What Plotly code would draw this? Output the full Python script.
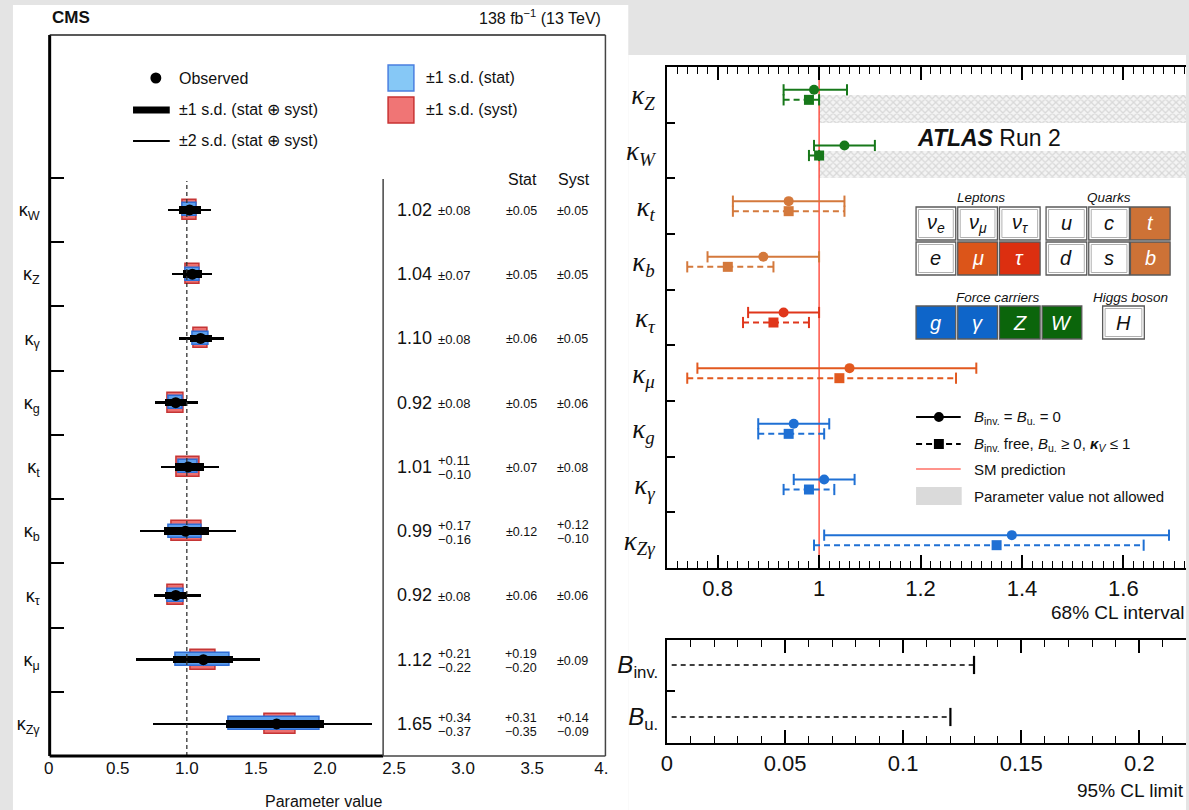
import plotly.graph_objects as go

W, H = 1189, 810
SANS = "Liberation Sans, Arial, Helvetica, sans-serif"
SERIF = "Liberation Serif, Times New Roman, serif"


def X(px):
    return px / W


def Y(py):
    return 1 - py / H


# ---------------- CMS data ----------------
cms_labels = ["κ<sub>W</sub>", "κ<sub>Z</sub>", "κ<sub>γ</sub>", "κ<sub>g</sub>", "κ<sub>t</sub>",
              "κ<sub>b</sub>", "κ<sub>τ</sub>", "κ<sub>μ</sub>", "κ<sub>Zγ</sub>"]
cms_best = [1.02, 1.04, 1.10, 0.92, 1.01, 0.99, 0.92, 1.12, 1.65]
cms_tot_up = [0.08, 0.07, 0.08, 0.08, 0.11, 0.17, 0.08, 0.21, 0.34]
cms_tot_dn = [0.08, 0.07, 0.08, 0.08, 0.10, 0.16, 0.08, 0.22, 0.37]
cms_stat_up = [0.05, 0.05, 0.06, 0.05, 0.07, 0.12, 0.06, 0.19, 0.31]
cms_stat_dn = [0.05, 0.05, 0.06, 0.05, 0.07, 0.12, 0.06, 0.20, 0.35]
cms_syst_up = [0.05, 0.05, 0.05, 0.06, 0.08, 0.12, 0.06, 0.09, 0.14]
cms_syst_dn = [0.05, 0.05, 0.05, 0.06, 0.08, 0.10, 0.06, 0.09, 0.09]
cms_2sd_up = [0.15, 0.14, 0.17, 0.16, 0.22, 0.36, 0.18, 0.41, 0.69]
cms_2sd_dn = [0.16, 0.15, 0.16, 0.15, 0.20, 0.33, 0.16, 0.49, 0.90]
cms_xticks = [0, 0.5, 1.0, 1.5, 2.0, 2.5, 3.0, 3.5, 4.0]
cms_xticktext = ["0", "0.5", "1.0", "1.5", "2.0", "2.5", "3.0", "3.5", "4."]
cms_y = list(range(len(cms_labels) - 1, -1, -1))

# ---------------- ATLAS data ----------------
atlas_labels = ["<i>κ</i><sub><i>Z</i></sub>", "<i>κ</i><sub><i>W</i></sub>", "<i>κ</i><sub><i>t</i></sub>",
                "<i>κ</i><sub><i>b</i></sub>", "<i>κ</i><sub><i>τ</i></sub>", "<i>κ</i><sub><i>μ</i></sub>",
                "<i>κ</i><sub><i>g</i></sub>", "<i>κ</i><sub><i>γ</i></sub>", "<i>κ</i><sub><i>Zγ</i></sub>"]
atlas_circ = [0.99, 1.05, 0.94, 0.89, 0.93, 1.06, 0.95, 1.01, 1.38]
atlas_circ_lo = [0.93, 0.99, 0.83, 0.78, 0.86, 0.76, 0.88, 0.95, 1.01]
atlas_circ_hi = [1.055, 1.11, 1.05, 1.00, 1.00, 1.31, 1.02, 1.07, 1.69]
atlas_sq = [0.98, 1.00, 0.94, 0.82, 0.91, 1.04, 0.94, 0.98, 1.35]
atlas_sq_lo = [0.93, 0.98, 0.83, 0.74, 0.85, 0.74, 0.88, 0.93, 0.99]
atlas_sq_hi = [1.00, 1.00, 1.05, 0.91, 0.98, 1.27, 1.01, 1.03, 1.64]
GREEN, ORANGE, RED, MUOR, BLUE = "#17781a", "#d4793c", "#e0361b", "#e2591f", "#1f70d4"
atlas_colors = [GREEN, GREEN, ORANGE, ORANGE, RED, MUOR, BLUE, BLUE, BLUE]
atlas_y = list(range(len(atlas_labels) - 1, -1, -1))
atlas_xticks = [0.8, 1.0, 1.2, 1.4, 1.6]
atlas_xticktext = ["0.8", "1", "1.2", "1.4", "1.6"]
atlas_notallowed_rows = [0, 1]   # kappa_Z, kappa_W  (kappa_V <= 1)
sm_value = 1.0

br_labels = ["<i>B</i><sub>inv.</sub>", "<i>B</i><sub>u.</sub>"]
br_limits = [0.13, 0.12]
br_y = [1, 0]
br_xticks = [0, 0.05, 0.1, 0.15, 0.2]
br_xticktext = ["0", "0.05", "0.1", "0.15", "0.2"]

fig = go.Figure()

# ---------------- CMS traces ----------------
fig.add_trace(go.Scatter(x=[1, 1], y=[-0.5, 8.45], mode="lines",
                         line=dict(color="#333", width=1.3, dash="4px,3px"),
                         xaxis="x", yaxis="y", hoverinfo="skip"))
fig.add_trace(go.Bar(orientation="h", y=cms_y,
                     x=[u + d for u, d in zip(cms_2sd_up, cms_2sd_dn)],
                     base=[b - d for b, d in zip(cms_best, cms_2sd_dn)],
                     width=0.04, marker=dict(color="black", line=dict(width=0)),
                     xaxis="x", yaxis="y"))
fig.add_trace(go.Bar(orientation="h", y=cms_y,
                     x=[u + d for u, d in zip(cms_syst_up, cms_syst_dn)],
                     base=[b - d for b, d in zip(cms_best, cms_syst_dn)],
                     width=0.31, marker=dict(color="#ec7070", line=dict(color="#c53535", width=1.5)),
                     xaxis="x", yaxis="y"))
fig.add_trace(go.Bar(orientation="h", y=cms_y,
                     x=[u + d for u, d in zip(cms_stat_up, cms_stat_dn)],
                     base=[b - d for b, d in zip(cms_best, cms_stat_dn)],
                     width=0.2, marker=dict(color="#5d9fec", line=dict(color="#2f6ed6", width=1.5)),
                     xaxis="x", yaxis="y"))
fig.add_trace(go.Bar(orientation="h", y=cms_y,
                     x=[u + d for u, d in zip(cms_tot_up, cms_tot_dn)],
                     base=[b - d for b, d in zip(cms_best, cms_tot_dn)],
                     width=0.12, marker=dict(color="black", line=dict(width=0)),
                     xaxis="x", yaxis="y"))
fig.add_trace(go.Scatter(x=cms_best, y=cms_y, mode="markers",
                         marker=dict(color="black", size=11, symbol="circle"),
                         xaxis="x", yaxis="y"))

# ---------------- ATLAS traces ----------------
OFF = 0.09
fig.add_trace(go.Bar(orientation="h",
                     y=[atlas_y[r] - 0.25 for r in atlas_notallowed_rows],
                     x=[2.0 - sm_value for _ in atlas_notallowed_rows],
                     base=[sm_value for _ in atlas_notallowed_rows],
                     width=0.5,
                     marker=dict(color="#f4f4f4", line=dict(width=0),
                                 pattern=dict(shape="x", fgcolor="#bcbcbc", bgcolor="#f4f4f4",
                                              size=5, solidity=0.45)),
                     xaxis="x2", yaxis="y2"))
fig.add_trace(go.Scatter(x=[sm_value, sm_value], y=[-0.5, 8.5], mode="lines",
                         line=dict(color="#ff2a1a", width=1.2), xaxis="x2", yaxis="y2"))
for i in range(len(atlas_labels)):
    yc = atlas_y[i]
    col = atlas_colors[i]
    # nominal (solid) with circle
    fig.add_trace(go.Scatter(x=[atlas_circ_lo[i], atlas_circ_hi[i]], y=[yc + OFF] * 2, mode="lines",
                             line=dict(color=col, width=2), xaxis="x2", yaxis="y2"))
    fig.add_trace(go.Scatter(x=[atlas_circ_lo[i], atlas_circ_hi[i]], y=[yc + OFF] * 2, mode="markers",
                             marker=dict(symbol="line-ns", size=8, color=col, line=dict(color=col, width=2)),
                             xaxis="x2", yaxis="y2"))
    fig.add_trace(go.Scatter(x=[atlas_circ[i]], y=[yc + OFF], mode="markers",
                             marker=dict(symbol="circle", size=10, color=col),
                             xaxis="x2", yaxis="y2"))
    # Binv free (dashed) with square
    fig.add_trace(go.Scatter(x=[atlas_sq_lo[i], atlas_sq_hi[i]], y=[yc - OFF] * 2, mode="lines",
                             line=dict(color=col, width=2, dash="6px,4px"), xaxis="x2", yaxis="y2"))
    fig.add_trace(go.Scatter(x=[atlas_sq_lo[i], atlas_sq_hi[i]], y=[yc - OFF] * 2, mode="markers",
                             marker=dict(symbol="line-ns", size=8, color=col, line=dict(color=col, width=2)),
                             xaxis="x2", yaxis="y2"))
    fig.add_trace(go.Scatter(x=[atlas_sq[i]], y=[yc - OFF], mode="markers",
                             marker=dict(symbol="square", size=10, color=col),
                             xaxis="x2", yaxis="y2"))

# ---------------- ATLAS lower panel ----------------
for lim, yb in zip(br_limits, br_y):
    fig.add_trace(go.Scatter(x=[0.002, lim], y=[yb, yb], mode="lines",
                             line=dict(color="black", width=1.5, dash="5px,4px"),
                             xaxis="x3", yaxis="y3"))
fig.add_trace(go.Scatter(x=br_limits, y=br_y, mode="markers",
                         marker=dict(symbol="line-ns", size=13, color="black", line=dict(color="black", width=2.2)),
                         xaxis="x3", yaxis="y3"))

# ---------------- shapes ----------------
shapes = []


def rect(x0, x1, y0, y1, fill, line=None, lw=0, layer="above"):
    shapes.append(dict(type="rect", xref="paper", yref="paper", x0=X(x0), x1=X(x1), y0=Y(y1), y1=Y(y0),
                       fillcolor=fill, line=dict(color=line or fill, width=lw), layer=layer))


def line(x0, x1, y0, y1, color, width, dash=None, layer="above"):
    d = dict(color=color, width=width)
    if dash:
        d["dash"] = dash
    shapes.append(dict(type="line", xref="paper", yref="paper", x0=X(x0), x1=X(x1), y0=Y(y0), y1=Y(y1),
                       line=d, layer=layer))


# white image backgrounds
rect(7, 627, 5, 810, "white", layer="below")
rect(627, 1189, 55, 810, "white", layer="below")

# CMS frame
line(44, 44, 35, 756, "black", 3)
line(44, 604, 35, 35, "#222", 1.5)
line(604, 604, 35, 756, "#444", 1.5)
line(44, 380, 756, 756, "black", 3)
line(380, 604, 756, 756, "#444", 1.5)
line(380, 380, 179, 756, "#444", 1.5)

# CMS legend graphics
shapes.append(dict(type="circle", xref="paper", yref="paper", x0=X(145.5), x1=X(156.5), y0=Y(83.5), y1=Y(72.5),
                   fillcolor="black", line=dict(color="black", width=0)))
line(128, 165, 110, 110, "black", 7)
line(128, 165, 141, 141, "black", 2)
rect(385, 411, 65, 91, "#86c8f6", "#4a7fe0", 1.5)
rect(385, 411, 97, 123, "#f07575", "#c83232", 1.5)

# ATLAS particle table
boxes = [
    ("<i>ν</i><sub><i>e</i></sub>", 917, 957, 207, 240, "white"),
    ("<i>ν</i><sub><i>μ</i></sub>", 959, 999, 207, 240, "white"),
    ("<i>ν</i><sub><i>τ</i></sub>", 1001, 1042, 207, 240, "white"),
    ("<i>u</i>", 1048, 1089, 207, 240, "white"),
    ("<i>c</i>", 1091, 1132, 207, 240, "white"),
    ("<i>t</i>", 1133, 1173, 207, 240, "#cd7236"),
    ("<i>e</i>", 917, 957, 242, 275, "white"),
    ("<i>μ</i>", 959, 999, 242, 275, "#dc5519"),
    ("<i>τ</i>", 1001, 1042, 242, 275, "#dc2f10"),
    ("<i>d</i>", 1048, 1089, 242, 275, "white"),
    ("<i>s</i>", 1091, 1132, 242, 275, "white"),
    ("<i>b</i>", 1133, 1173, 242, 275, "#cd7236"),
    ("<i>g</i>", 917, 957, 306, 339, "#0e65c9"),
    ("<i>γ</i>", 959, 999, 306, 339, "#0e65c9"),
    ("<i>Z</i>", 1001, 1042, 306, 339, "#0b650b"),
    ("<i>W</i>", 1044, 1084, 306, 339, "#0b650b"),
    ("<i>H</i>", 1105, 1147, 306, 339, "white"),
]
for _, x0, x1, y0, y1, fill in boxes:
    rect(x0, x1, y0, y1, fill, "#5a5a5a", 1.3)
    if fill == "white":
        rect(x0 + 2.5, x1 - 2.5, y0 + 2.5, y1 - 2.5, "white", "#b0b0b0", 1)

# ATLAS legend graphics
line(917, 962, 417, 417, "black", 2)
shapes.append(dict(type="circle", xref="paper", yref="paper", x0=X(935), x1=X(945), y0=Y(422), y1=Y(412),
                   fillcolor="black", line=dict(color="black", width=0)))
line(917, 962, 444, 444, "black", 2, dash="6px,4px")
rect(935, 945, 439, 449, "black")
line(917, 962, 469, 469, "#ff2a1a", 1.2)
rect(917, 963, 487, 505, "#dadada")

# ---------------- annotations ----------------
ann = []


def txt(x, y, s, size, xanchor="left", color="#111", family=SANS, xref="paper", yref="paper", yshift=0):
    if xref == "paper":
        x = X(x)
    if yref == "paper":
        y = Y(y)
    ann.append(dict(x=x, y=y, xref=xref, yref=yref, text=s, showarrow=False, xanchor=xanchor,
                    yanchor="middle", font=dict(size=size, color=color, family=family), yshift=yshift))


# CMS header / legend
txt(44, 17, "<b>CMS</b>", 17)
txt(602, 17, "138 fb<sup>−1</sup> (13 TeV)", 16, xanchor="right")
txt(172, 78, "Observed", 16)
txt(172, 110, "±1 s.d. (stat ⊕ syst)", 16)
txt(172, 141, "±2 s.d. (stat ⊕ syst)", 16)
txt(421, 77, "±1 s.d. (stat)", 16)
txt(421, 110, "±1 s.d. (syst)", 16)
txt(520, 179, "Stat", 16, xanchor="center")
txt(572, 179, "Syst", 16, xanchor="center")
txt(320, 801, "Parameter value", 16, xanchor="center")

X_VAL, X_ERR, X_STAT, X_SYST = 2.79, 2.805, 3.42, 3.795


def err_ann(xd, yd, up, dn, size, anchor):
    if abs(up - dn) < 1e-9:
        txt(xd, yd, f"±{up:.2f}", size, xanchor=anchor, xref="x", yref="y", yshift=-1)
    else:
        txt(xd, yd, f"+{up:.2f}", size, xanchor=anchor, xref="x", yref="y", yshift=6)
        txt(xd, yd, f"−{dn:.2f}", size, xanchor=anchor, xref="x", yref="y", yshift=-8)


for i in range(len(cms_labels)):
    yd = cms_y[i]
    txt(X_VAL, yd, f"{cms_best[i]:.2f}", 18, xanchor="right", xref="x", yref="y")
    err_ann(X_ERR, yd, cms_tot_up[i], cms_tot_dn[i], 13, "left")
    err_ann(X_STAT, yd, cms_stat_up[i], cms_stat_dn[i], 12.5, "center")
    err_ann(X_SYST, yd, cms_syst_up[i], cms_syst_dn[i], 12.5, "center")

# ATLAS texts
txt(916, 138, "<b><i>ATLAS</i></b> Run 2", 23)
txt(982, 197, "<i>Leptons</i>", 13.5, xanchor="center")
txt(1111, 197, "<i>Quarks</i>", 13.5, xanchor="center")
txt(1000, 297, "<i>Force carriers</i>", 13.5, xanchor="center")
txt(1133, 297, "<i>Higgs boson</i>", 13.5, xanchor="center")
for s, x0, x1, y0, y1, fill in boxes:
    txt((x0 + x1) / 2, (y0 + y1) / 2, s, 20, xanchor="center",
        color="#111" if fill == "white" else "white")
txt(973, 417, "<i>B</i><sub>inv.</sub> = <i>B</i><sub>u.</sub> = 0", 15)
txt(973, 444, "<i>B</i><sub>inv.</sub> free, <i>B</i><sub>u.</sub> ≥ 0, <b><i>κ</i></b><sub><i>V</i></sub> ≤ 1", 15)
txt(973, 469, "SM prediction", 15)
txt(973, 496, "Parameter value not allowed", 15)
txt(1189, 612, "68% CL interval", 19, xanchor="right")
txt(1189, 790, "95% CL limit", 19, xanchor="right")

# ---------------- layout ----------------
blk = "black"
layout = dict(
    width=W, height=H, margin=dict(l=0, r=0, t=0, b=0),
    paper_bgcolor="#e4e4e4", plot_bgcolor="rgba(0,0,0,0)",
    showlegend=False, barmode="overlay", bargap=0,
    shapes=shapes, annotations=ann,
    font=dict(family=SANS, color="#111"),
    # CMS
    xaxis=dict(domain=[X(43), X(604)], range=[0, 4.03], anchor="y",
               tickmode="array", tickvals=cms_xticks, ticktext=cms_xticktext,
               ticks="", showline=False, showgrid=False, zeroline=False,
               tickfont=dict(size=17, family=SANS, color="#111")),
    xaxis4=dict(overlaying="x", anchor="y", range=[0, 4.03], tickmode="array",
                tickvals=[0.5, 1.0, 1.5, 2.0], ticks="inside", ticklen=12, tickwidth=1.5, tickcolor=blk,
                showticklabels=False, showline=False, showgrid=False, zeroline=False,
                minor=dict(tickmode="array",
                           tickvals=[v / 10 for v in range(1, 25) if v % 5 != 0],
                           ticks="inside", ticklen=6, tickwidth=1.3, tickcolor=blk, showgrid=False)),
    yaxis=dict(domain=[Y(756), Y(35)], range=[-0.5, 10.722], anchor="x",
               tickmode="array", tickvals=cms_y, ticktext=cms_labels, ticks="",
               showline=False, showgrid=False, zeroline=False, ticklabelstandoff=8,
               tickfont=dict(size=18, family=SANS, color="#111"),
               minor=dict(tickmode="array", tickvals=[v + 0.5 for v in range(9)], ticks="inside",
                          ticklen=15, tickwidth=1.5, tickcolor=blk, showgrid=False)),
    # ATLAS upper
    xaxis2=dict(domain=[X(666), 1.0], range=[0.7, 0.7 + (1189 - 666) / 511], anchor="y2",
                tickmode="array", tickvals=atlas_xticks, ticktext=atlas_xticktext,
                ticks="inside", ticklen=13, tickwidth=1.5, tickcolor=blk,
                showline=True, linecolor=blk, linewidth=1.8, mirror="allticks",
                showgrid=False, zeroline=False,
                tickfont=dict(size=22, family=SANS, color="#111"),
                minor=dict(tickmode="linear", tick0=0.7, dtick=0.02, ticks="inside", ticklen=7,
                           tickwidth=1.3, tickcolor=blk, showgrid=False)),
    yaxis2=dict(domain=[Y(568), Y(67)], range=[-0.5, 8.5], anchor="x2",
                tickmode="array", tickvals=atlas_y, ticktext=atlas_labels, ticks="",
                showline=True, linecolor=blk, linewidth=1.8, mirror=False,
                showgrid=False, zeroline=False, ticklabelstandoff=5,
                tickfont=dict(size=27, family=SERIF, color="#111"),
                minor=dict(tickmode="array", tickvals=[v + 0.5 for v in range(8)], ticks="inside",
                           ticklen=8, tickwidth=1.5, tickcolor=blk, showgrid=False)),
    yaxis5=dict(overlaying="y2", anchor="x2", side="right", range=[-0.5, 8.5],
                tickmode="array", tickvals=[v + 0.5 for v in range(8)], ticks="inside",
                ticklen=8, tickwidth=1.5, tickcolor=blk, showticklabels=False,
                showline=False, showgrid=False, zeroline=False),
    # ATLAS lower
    xaxis3=dict(domain=[X(666), 1.0], range=[0, (1189 - 666) / 2380], anchor="y3",
                tickmode="array", tickvals=br_xticks, ticktext=br_xticktext,
                ticks="inside", ticklen=13, tickwidth=1.5, tickcolor=blk,
                showline=True, linecolor=blk, linewidth=1.8, mirror="allticks",
                showgrid=False, zeroline=False,
                tickfont=dict(size=22, family=SANS, color="#111"),
                minor=dict(tickmode="linear", tick0=0, dtick=0.01, ticks="inside", ticklen=7,
                           tickwidth=1.3, tickcolor=blk, showgrid=False)),
    yaxis3=dict(domain=[Y(743), Y(640)], range=[-0.5, 1.48], anchor="x3",
                tickmode="array", tickvals=br_y, ticktext=br_labels, ticks="",
                showline=True, linecolor=blk, linewidth=1.8, mirror=False,
                showgrid=False, zeroline=False, ticklabelstandoff=2,
                tickfont=dict(size=24, family=SANS, color="#111"),
                minor=dict(tickmode="array", tickvals=[0.5], ticks="inside",
                           ticklen=8, tickwidth=1.5, tickcolor=blk, showgrid=False)),
    yaxis6=dict(overlaying="y3", anchor="x3", side="right", range=[-0.5, 1.48],
                tickmode="array", tickvals=[0.5], ticks="inside",
                ticklen=8, tickwidth=1.5, tickcolor=blk, showticklabels=False,
                showline=False, showgrid=False, zeroline=False),
)
fig.update_layout(**layout)
fig.write_html("out.html")
